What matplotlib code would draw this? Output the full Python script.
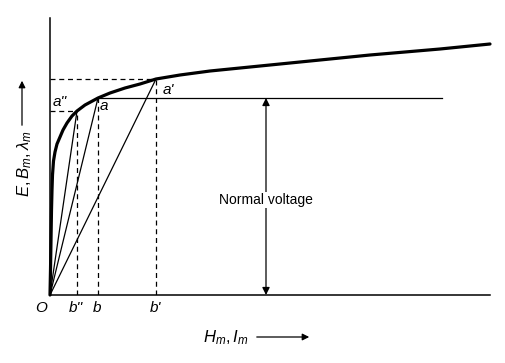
import matplotlib
matplotlib.use("Agg")
import matplotlib.pyplot as plt

plt.rcParams['font.family'] = ['Liberation Sans', 'DejaVu Sans']
plt.rcParams['mathtext.fontset'] = 'custom'
plt.rcParams['mathtext.it'] = 'Liberation Sans:italic'
plt.rcParams['mathtext.rm'] = 'Liberation Sans'

# Magnetisation curve (H_m, B_m) (arbitrary units)
curve_h = [0, 0.5, 1, 1.5, 2, 2.5, 3.5, 5, 7, 10, 13, 17, 22, 27, 35, 48, 60, 75, 90, 106,
           130, 160, 190, 250, 320, 390, 440]
curve_b = [0, 25, 55, 85, 105, 120, 134, 143, 151, 158, 165, 172, 179, 184, 190, 197, 202,
           207, 211, 216, 220, 224, 227, 233, 240, 246, 251]

# Operating points
point_labels = ["a''", "a", "a'"]
foot_labels = ["b''", "b", "b'"]
point_h = [27, 48, 106]
point_b = [184, 197, 216]

normal_voltage = 197
normal_line_end = 392
arrow_x = 216

W, H = 506, 363
fig = plt.figure(figsize=(W / 100, H / 100), dpi=100)
ax = fig.add_axes([50 / W, (H - 295) / H, 440 / W, 277 / H])
ax.set_xlim(0, 440)
ax.set_ylim(0, 277)
for s in ['top', 'right']:
    ax.spines[s].set_visible(False)
for s in ['left', 'bottom']:
    ax.spines[s].set_linewidth(1.1)
ax.set_xticks([])
ax.set_yticks([])

# curve
ax.plot(curve_h, curve_b, color='black', lw=2.3, solid_capstyle='round',
        solid_joinstyle='round', clip_on=False)

# chords from origin and dashed verticals
for h, b in zip(point_h, point_b):
    ax.plot([0, h], [0, b], color='black', lw=0.9)
    ax.plot([h, h], [0, b], color='black', lw=0.9, ls=(0, (4, 3)))

# dashed horizontals for a'' and a'
for i in (0, 2):
    ax.plot([0, point_h[i]], [point_b[i], point_b[i]], color='black', lw=0.9, ls=(0, (4, 3)))

# normal voltage line
ax.plot([point_h[1], normal_line_end], [normal_voltage, normal_voltage], color='black', lw=0.9)

# double arrow
ax.annotate('', xy=(arrow_x, 0), xytext=(arrow_x, normal_voltage),
            arrowprops=dict(arrowstyle='<|-|>', color='black', lw=0.9, mutation_scale=11,
                            shrinkA=0, shrinkB=0))
ax.text(arrow_x, 95, 'Normal voltage', ha='center', va='center', fontsize=10,
        bbox=dict(facecolor='white', edgecolor='none', pad=1))

# point labels
ax.text(10, 193, point_labels[0], fontsize=11, style='italic', ha='center', va='center')
ax.text(54, 189, point_labels[1], fontsize=11, style='italic', ha='center', va='center')
ax.text(118, 205, point_labels[2], fontsize=11, style='italic', ha='center', va='center')

# foot labels
ax.text(-9, -13, 'O', fontsize=11, style='italic', ha='center', va='center', clip_on=False)
for h, lab in zip(point_h, foot_labels):
    ax.text(h - 1, -13, lab, fontsize=11, style='italic', ha='center', va='center', clip_on=False)

# axis labels with arrows (figure pixel coords)
def fx(px):
    return px / W

def fy(py):
    return 1 - py / H

fig.text(fx(226), fy(338), r'$H_m,I_m$', fontsize=12, ha='center', va='center')
fig.add_artist(matplotlib.patches.FancyArrowPatch((fx(254), fy(337)), (fx(312), fy(337)),
               transform=fig.transFigure, arrowstyle='-|>', mutation_scale=10, lw=0.9, color='black'))
fig.text(fx(25), fy(164), r'$E, B_m, \lambda_m$', fontsize=12, ha='center', va='center', rotation=90)
fig.add_artist(matplotlib.patches.FancyArrowPatch((fx(22), fy(128)), (fx(22), fy(78)),
               transform=fig.transFigure, arrowstyle='-|>', mutation_scale=10, lw=0.9, color='black'))

fig.savefig('out.png', dpi=100, facecolor='white')
